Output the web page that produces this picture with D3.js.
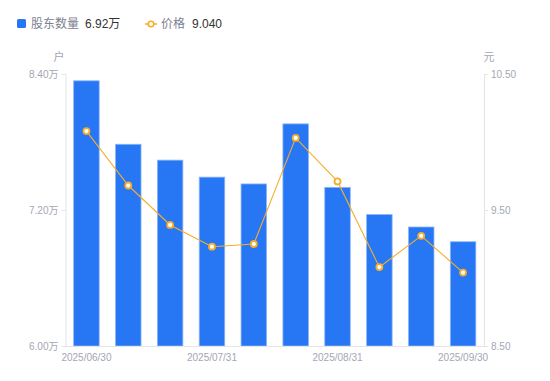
<!DOCTYPE html>
<html>
<head>
<meta charset="utf-8">
<script src="https://cdn.jsdelivr.net/npm/d3@7"></script>
<style>
  body { margin: 0; background: #fff; }
  svg { font-family: "Liberation Sans", Arial, "Noto Sans CJK SC", sans-serif; }
</style>
</head>
<body>
<svg id="chart"></svg>
<script>
const dates = ["2025/06/30", "2025/07/10", "2025/07/18", "2025/07/31", "2025/08/08",
               "2025/08/20", "2025/08/31", "2025/09/10", "2025/09/19", "2025/09/30"];
const holders = [8.34, 7.78, 7.64, 7.49, 7.43, 7.96, 7.40, 7.16, 7.05, 6.92]; // 万户
const prices = [10.08, 9.68, 9.39, 9.23, 9.25, 10.03, 9.71, 9.08, 9.31, 9.04];
const leftTicks = [6.0, 7.2, 8.4];
const rightTicks = [8.5, 9.5, 10.5];
const shownDates = ["2025/06/30", "2025/07/31", "2025/08/31", "2025/09/30"];

const width = 550, height = 381;
const margin = {top: 74, right: 66, bottom: 35, left: 65.5};

const svg = d3.select("#chart")
    .attr("width", width)
    .attr("height", height);

const x = d3.scaleBand()
    .domain(dates)
    .range([margin.left, width - margin.right])
    .paddingInner(0.39)
    .paddingOuter(0.195);

const yLeft = d3.scaleLinear().domain([6.0, 8.4]).range([height - margin.bottom, margin.top]);
const yRight = d3.scaleLinear().domain([8.5, 10.5]).range([height - margin.bottom, margin.top]);

const axisColor = "#e3e4e8";
const labelColor = "#a3a6b4";

// bars
svg.append("g")
    .selectAll("rect")
    .data(holders)
    .enter()
    .append("rect")
    .attr("x", (d, i) => x(dates[i]))
    .attr("y", d => yLeft(d))
    .attr("width", x.bandwidth())
    .attr("height", d => yLeft(6.0) - yLeft(d))
    .attr("fill", "#2777f5")
    .attr("stroke", "#8db6fa")
    .attr("stroke-width", 0.8);

// left axis
const gl = svg.append("g").attr("transform", `translate(${margin.left},0)`)
    .call(d3.axisLeft(yLeft).tickValues(leftTicks).tickSize(4).tickPadding(3)
        .tickFormat(d => d3.format(".2f")(d) + "万"));
// right axis
const gr = svg.append("g").attr("transform", `translate(${width - margin.right},0)`)
    .call(d3.axisRight(yRight).tickValues(rightTicks).tickSize(4).tickPadding(3)
        .tickFormat(d3.format(".2f")));
// bottom axis
const gb = svg.append("g").attr("transform", `translate(0,${height - margin.bottom})`)
    .call(d3.axisBottom(x).tickValues(shownDates).tickSize(0).tickPadding(8));

[gl, gr, gb].forEach(g => {
    g.select(".domain").attr("stroke", axisColor);
    g.selectAll(".tick line").attr("stroke", axisColor);
    g.selectAll("text").attr("fill", labelColor).style("font-size", "10px")
        .style("font-family", "'Liberation Sans', Arial, 'Noto Sans CJK SC', sans-serif");
});
gb.select(".domain").attr("d", `M${margin.left},0.5H${width - margin.right}`);

// unit labels
svg.append("text").attr("x", 59).attr("y", 61).attr("text-anchor", "middle")
    .attr("fill", labelColor).style("font-size", "11px").text("户");
svg.append("text").attr("x", 489).attr("y", 61).attr("text-anchor", "middle")
    .attr("fill", labelColor).style("font-size", "11px").text("元");

// price line
const lineColor = "#f6ad2b";
const line = d3.line()
    .x((d, i) => x(dates[i]) + x.bandwidth() / 2)
    .y(d => yRight(d));

svg.append("path")
    .datum(prices)
    .attr("d", line)
    .attr("fill", "none")
    .attr("stroke", lineColor)
    .attr("stroke-width", 1.1);

svg.append("g")
    .selectAll("circle")
    .data(prices)
    .enter()
    .append("circle")
    .attr("cx", (d, i) => x(dates[i]) + x.bandwidth() / 2)
    .attr("cy", d => yRight(d))
    .attr("r", 3)
    .attr("fill", "#fff")
    .attr("stroke", lineColor)
    .attr("stroke-width", 1.8);

// legend
const legend = svg.append("g").style("font-size", "12px");
legend.append("rect").attr("x", 17).attr("y", 19).attr("width", 9).attr("height", 9)
    .attr("rx", 1.5).attr("fill", "#2777f5");
legend.append("text").attr("x", 31).attr("y", 28).attr("fill", "#7d8190").text("股东数量");
legend.append("text").attr("x", 85).attr("y", 28).attr("fill", "#333").text(d3.format(".2f")(holders[holders.length - 1]) + "万");

legend.append("line").attr("x1", 145).attr("x2", 157).attr("y1", 24).attr("y2", 24)
    .attr("stroke", lineColor).attr("stroke-width", 1.5);
legend.append("circle").attr("cx", 151).attr("cy", 24).attr("r", 2.8)
    .attr("fill", "#fff").attr("stroke", lineColor).attr("stroke-width", 1.6);
legend.append("text").attr("x", 161).attr("y", 28).attr("fill", "#7d8190").text("价格");
legend.append("text").attr("x", 192).attr("y", 28).attr("fill", "#333").text(d3.format(".3f")(prices[prices.length - 1]));
</script>
</body>
</html>
